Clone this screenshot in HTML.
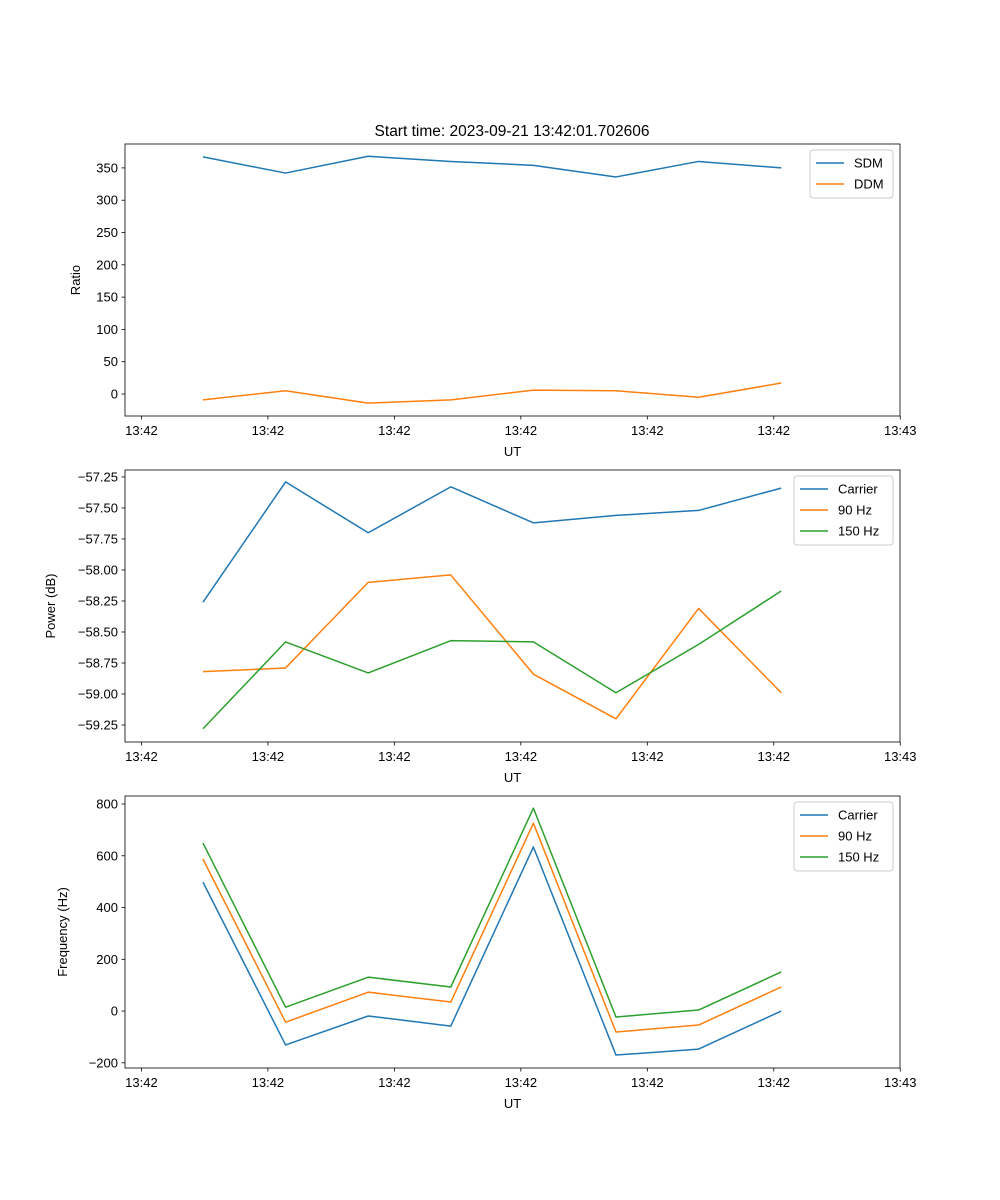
<!DOCTYPE html>
<html><head><meta charset="utf-8"><style>
body{margin:0;background:#fff}
svg{display:block;font-family:"Liberation Sans","DejaVu Sans",sans-serif}
</style></head><body>
<svg id="fig" width="1000" height="1200" viewBox="0 0 1000 1200"></svg>
<script>
const xIndex=[0,1,2,3,4,5,6,7];
const xTickPos=[-0.745,0.786,2.317,3.848,5.379,6.910,8.441];
const xTickLabels=["13:42","13:42","13:42","13:42","13:42","13:42","13:43"];
const sdm=[367,342,368,360,354,336,360,350];
const ddm=[-9,5,-14,-9,6,5,-5,17];
const pCarrier=[-58.26,-57.29,-57.70,-57.33,-57.62,-57.56,-57.52,-57.34];
const p90=[-58.82,-58.79,-58.10,-58.04,-58.84,-59.20,-58.31,-58.99];
const p150=[-59.28,-58.58,-58.83,-58.57,-58.58,-58.99,-58.60,-58.17];
const fCarrier=[498,-131,-19,-58,634,-170,-147,0];
const f90=[587,-43,73,35,726,-81,-54,93];
const f150=[649,15,131,93,784,-23,4,151];
const ratioTicks=[0,50,100,150,200,250,300,350];
const powerTicks=[-59.25,-59.00,-58.75,-58.50,-58.25,-58.00,-57.75,-57.50,-57.25];
const freqTicks=[-200,0,200,400,600,800];

const NS="http://www.w3.org/2000/svg";
const svg=document.getElementById('fig');
function mk(tag,attrs,parent){const e=document.createElementNS(NS,tag);for(const k in attrs)e.setAttribute(k,attrs[k]);(parent||svg).appendChild(e);return e;}
const C=["#1f77b4","#ff7f0e","#2ca02c"];
const L=125,R=900;
const xMin=-0.944,xMax=8.438;
function xs(v){return L+(v-xMin)/(xMax-xMin)*(R-L);}

function panel(name,top,bottom,yMin,yMax,ticks,fmt,ylabel,ylabelX,series,names,legend){
  const g=mk('g',{});
  
  
  const ys=v=>bottom-(v-yMin)/(yMax-yMin)*(bottom-top);
  series.forEach((s,i)=>{
    const pts=s.map((v,j)=>xs(xIndex[j]).toFixed(2)+','+ys(v).toFixed(2)).join(' ');
    const pl=mk('polyline',{points:pts,fill:'none',stroke:C[i],'stroke-width':1.5,'stroke-linejoin':'round'},g);
    
    
  });
  const fr=mk('rect',{x:L,y:top,width:R-L,height:bottom-top,fill:'none',stroke:'#000','stroke-width':0.8},g);
  
  
  ticks.forEach(t=>{
    const y=ys(t);
    mk('line',{x1:L-3.5,x2:L,y1:y,y2:y,stroke:'#000','stroke-width':0.8},g);
    const tx=mk('text',{x:L-7,y:y+4.5,'text-anchor':'end','font-size':13,fill:'#000'},g);
    tx.textContent=fmt(t);
    
    
  });
  xTickPos.forEach((p,i)=>{
    const x=xs(p);
    mk('line',{x1:x,x2:x,y1:bottom,y2:bottom+3.5,stroke:'#000','stroke-width':0.8},g);
    const tx=mk('text',{x:x,y:bottom+19,'text-anchor':'middle','font-size':13,fill:'#000'},g);
    tx.textContent=xTickLabels[i];
    
    
  });
  const xl=mk('text',{x:(L+R)/2,y:bottom+40,'text-anchor':'middle','font-size':13,fill:'#000'},g);
  xl.textContent='UT';
  
  
  const cy=(top+bottom)/2;
  const yl=mk('text',{x:ylabelX,y:cy,'text-anchor':'middle','font-size':13,fill:'#000',transform:'rotate(-90 '+ylabelX+' '+cy+')'},g);
  yl.textContent=ylabel;
  
  
  const lg=mk('g',{},g);
  
  
  const h=names.length*21+6;
  mk('rect',{x:legend.x,y:top+6,width:893-legend.x,height:h,rx:3,fill:'#fff','fill-opacity':0.8,stroke:'#ccc','stroke-width':1},lg);
  names.forEach((n,i)=>{
    const yy=top+6+13+i*21;
    mk('line',{x1:legend.x+6,x2:legend.x+34,y1:yy,y2:yy,stroke:C[i],'stroke-width':1.5},lg);
    const t=mk('text',{x:legend.x+44,y:yy+4.5,'font-size':13,fill:'#000'},lg);
    t.textContent=n;
    
    
  });
}
const title=mk('text',{x:512,y:136,'text-anchor':'middle','font-size':15.5,fill:'#000'});
title.textContent='Start time: 2023-09-21 13:42:01.702606';


panel('ratio',144,416,-34,387,ratioTicks,v=>String(v),'Ratio',80,[sdm,ddm],['SDM','DDM'],{x:810});
panel('power',470,742,-59.387,-57.194,powerTicks,v=>(v<0?'\u2212':'')+Math.abs(v).toFixed(2),'Power (dB)',55,[pCarrier,p90,p150],['Carrier','90 Hz','150 Hz'],{x:794});
panel('frequency',796,1068,-220,831,freqTicks,v=>(v<0?'\u2212':'')+Math.abs(v),'Frequency (Hz)',67,[fCarrier,f90,f150],['Carrier','90 Hz','150 Hz'],{x:794});
</script>
</body></html>
